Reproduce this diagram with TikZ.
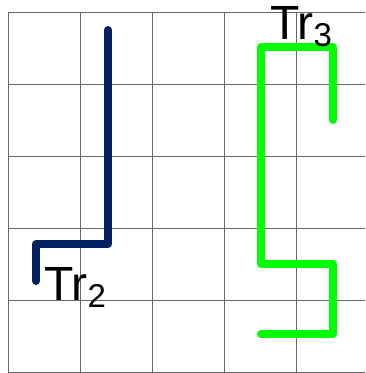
\documentclass[tikz,border=0pt]{standalone}
\usepackage{fontspec}
\setmainfont{Liberation Sans}
\usepackage{xcolor}
\definecolor{trnavy}{RGB}{0,32,96}
\definecolor{trgreen}{RGB}{0,255,0}

\begin{document}
\begin{tikzpicture}[x=1pt,y=-1pt]
\tikzset{gridline/.style={black!60,line width=0.9pt},
  track/.style={line width=8pt,line cap=round,line join=round},
  trlabel/.style={anchor=base west,inner sep=0pt,font=\fontsize{48}{52}\selectfont}}
\useasboundingbox (0,0) rectangle (365,373);
% grid
\draw[gridline] (8,12) -- (365,12);
\draw[gridline] (8,84) -- (365,84);
\draw[gridline] (8,156) -- (365,156);
\draw[gridline] (8,228) -- (365,228);
\draw[gridline] (8,300) -- (365,300);
\draw[gridline] (8,372) -- (365,372);
\draw[gridline] (8,12) -- (8,372);
\draw[gridline] (80,12) -- (80,372);
\draw[gridline] (152,12) -- (152,372);
\draw[gridline] (224,12) -- (224,372);
\draw[gridline] (296,12) -- (296,372);
% tracks
\draw[track,trnavy] (108,30) -- (108,244) -- (36,244) -- (36,281);
\draw[track,trgreen] (333,120) -- (333,47) -- (261,47) -- (261,264)
  -- (333,264) -- (333,334) -- (261,334);
% labels
\node[trlabel] (trtwo) at (44,300) {Tr\raisebox{-7pt}{\fontsize{33}{33}\selectfont 2}};
\node[trlabel] (trthree) at (270,39) {Tr\raisebox{-7pt}{\fontsize{33}{33}\selectfont 3}};
\end{tikzpicture}
\end{document}
